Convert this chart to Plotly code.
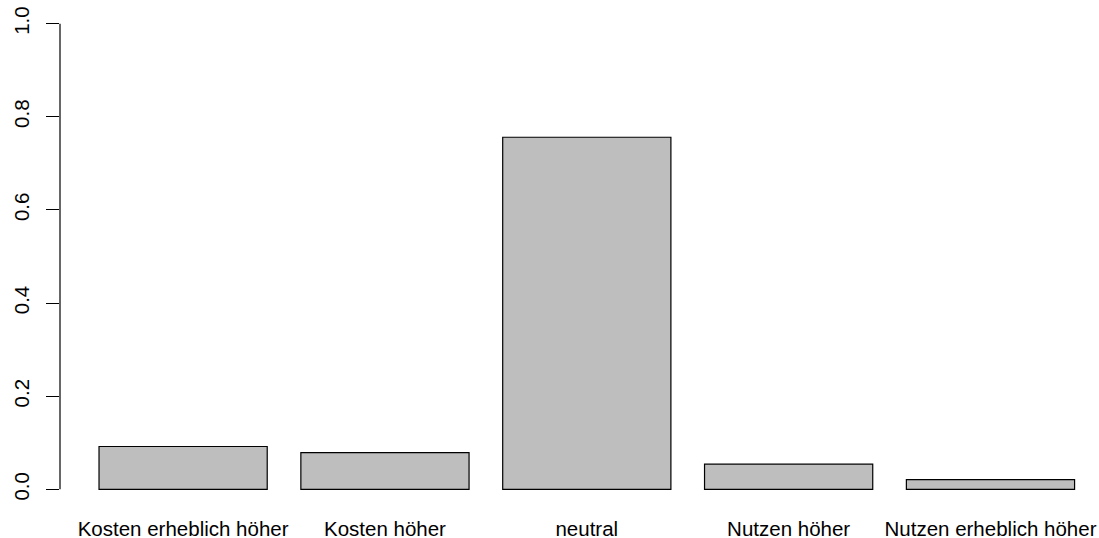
import plotly.graph_objects as go

categories = ["Kosten erheblich höher", "Kosten höher", "neutral", "Nutzen höher", "Nutzen erheblich höher"]
values = [0.092, 0.079, 0.756, 0.054, 0.021]
y_ticks = [0.0, 0.2, 0.4, 0.6, 0.8, 1.0]
y_ticklabels = ["0.0", "0.2", "0.4", "0.6", "0.8", "1.0"]

# R barplot layout: width 1, space 0.2
bar_centers = [0.2 + 1.2 * i + 0.5 for i in range(len(categories))]

fig = go.Figure()
fig.add_trace(go.Bar(
    x=bar_centers, y=values, width=1.0,
    marker=dict(color="#BEBEBE", line=dict(color="#000000", width=1.2)),
    hoverinfo="x+y",
))

W, H = 1099, 538
left, top, bottom = 60, 5, 30
plot_w = W - left
px_per_unit = 168.2
x0 = -0.032

fig.update_layout(
    width=W, height=H,
    margin=dict(l=left, r=0, t=top, b=bottom, pad=0, autoexpand=False),
    plot_bgcolor="white", paper_bgcolor="white",
    showlegend=False,
    font=dict(family="Liberation Sans, Arial, sans-serif", size=20.5, color="#000000"),
    xaxis=dict(
        range=[x0, x0 + plot_w / px_per_unit],
        tickvals=bar_centers, ticktext=categories,
        showgrid=False, zeroline=False, showline=False, ticks="",
        automargin=False,
        tickfont=dict(size=20.5), ticklabelstandoff=6,
    ),
    yaxis=dict(
        range=[-0.04, 1.04],
        tickvals=y_ticks, ticktext=y_ticklabels,
        tickangle=-90,
        showgrid=False, zeroline=False, showline=False,
        ticks="outside", ticklen=13, tickwidth=1.2, tickcolor="#000000",
        automargin=False,
        tickfont=dict(size=20.5), ticklabelstandoff=9,
    ),
    shapes=[dict(type="line", xref="paper", yref="y", x0=0, x1=0, y0=0, y1=1,
                 line=dict(color="#000000", width=1.2))],
)

fig.write_html(
    "out.html",
    config={"displayModeBar": False},
    post_script="document.body.style.margin='0';document.body.style.overflow='hidden';",
)
